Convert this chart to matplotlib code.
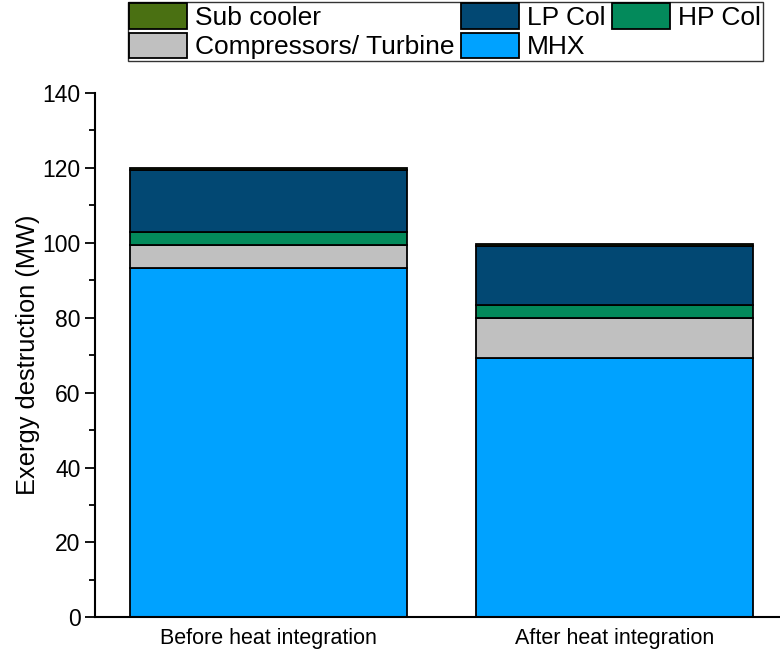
import matplotlib.pyplot as plt
from matplotlib.ticker import MultipleLocator

plt.rcParams['font.family'] = ['Liberation Sans', 'DejaVu Sans']

cases = ['Before heat integration', 'After heat integration']
mhx = [93.2, 69.2]
compressors = [6.2, 10.7]
hp_col = [3.5, 3.5]
lp_col = [16.4, 15.7]
sub_cooler = [0.6, 0.6]

fig = plt.figure(figsize=(7.8, 6.54), dpi=100)
ax = fig.add_axes([0.122, 0.056, 0.878, 0.802])

pos = [1, 2]
w = 0.8
kw = dict(width=w, edgecolor='black', linewidth=1.3)
b_mhx = ax.bar(pos, mhx, color='#00A2FF', label='MHX', **kw)
bottom = list(mhx)
b_comp = ax.bar(pos, compressors, bottom=bottom, color='#C0C0C0', label='Compressors/ Turbine', **kw)
bottom = [a + b for a, b in zip(bottom, compressors)]
b_hp = ax.bar(pos, hp_col, bottom=bottom, color='#038A5B', label='HP Col', **kw)
bottom = [a + b for a, b in zip(bottom, hp_col)]
b_lp = ax.bar(pos, lp_col, bottom=bottom, color='#024873', label='LP Col', **kw)
bottom = [a + b for a, b in zip(bottom, lp_col)]
b_sub = ax.bar(pos, sub_cooler, bottom=bottom, color='#4A7012', label='Sub cooler', **kw)

ax.set_xlim(0.5, 2.477)
ax.set_ylim(0, 140)
ax.set_xticks(pos)
ax.set_xticklabels(cases, fontsize=15.5)
ax.tick_params(axis='x', length=0, pad=8)
ax.yaxis.set_major_locator(MultipleLocator(20))
ax.yaxis.set_minor_locator(MultipleLocator(10))
ax.tick_params(axis='y', which='major', direction='out', length=7, width=1.3, labelsize=16.5)
ax.tick_params(axis='y', which='minor', direction='out', length=4, width=1.3)
ax.spines['top'].set_visible(False)
ax.spines['right'].set_visible(False)
ax.spines['left'].set_linewidth(1.5)
ax.spines['bottom'].set_linewidth(1.5)
ax.set_ylabel('Exergy destruction (MW)', fontsize=18.3, labelpad=2)

handles = [b_sub, b_comp, b_lp, b_mhx, b_hp]
labels = [h.get_label() for h in handles]
leg = fig.legend(handles, labels, ncol=3, loc='upper left', bbox_to_anchor=(0.164, 0.997),
                 fontsize=19, frameon=True, fancybox=False, edgecolor='black',
                 borderpad=0.05, handlelength=2.2, handleheight=1.1, handletextpad=0.3,
                 columnspacing=0.25, labelspacing=0.1, borderaxespad=0.0)
leg.get_frame().set_linewidth(1.0)

plt.savefig('out.png', dpi=100)
